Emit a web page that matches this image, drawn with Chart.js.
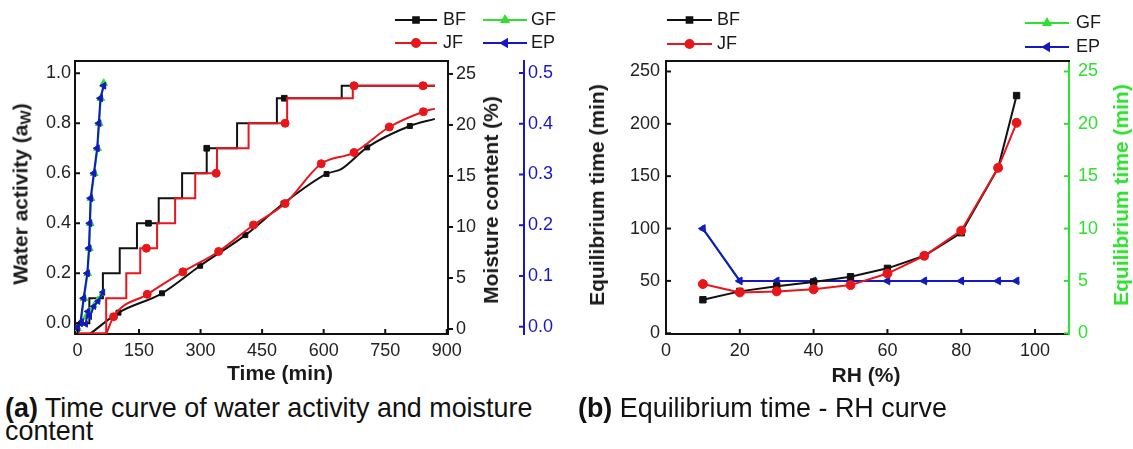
<!DOCTYPE html>
<html>
<head>
<meta charset="utf-8">
<script src="https://cdn.jsdelivr.net/npm/chart.js@4.4.1/dist/chart.umd.min.js"></script>
<style>
  body { margin: 0; background: #fff; width: 1133px; height: 449px; position: relative; overflow: hidden;
         font-family: "Liberation Sans", Arial, sans-serif; }
  canvas { position: absolute; top: 0; }
  #chartA { left: 0; }
  #chartB { left: 570px; }
  .ttl { position: absolute; white-space: nowrap; font-weight: bold; font-size: 21px; color: #1a1a1a;
         transform: translate(-50%, -50%); }
  .rot { transform: translate(-50%, -50%) rotate(-90deg); }
  .ttl sub { font-size: 0.72em; vertical-align: -0.2em; }
  .cap { position: absolute; font-size: 28px; line-height: 23px; color: #111; white-space: nowrap;
         transform: scaleX(0.96); transform-origin: left top; }
</style>
</head>
<body>
<canvas id="chartA" width="560" height="390"></canvas>
<canvas id="chartB" width="563" height="390"></canvas>

<div class="ttl rot" style="left:21px;top:194px">Water activity (a<sub>W</sub>)</div>
<div class="ttl" style="left:280px;top:373px">Time (min)</div>
<div class="ttl rot" style="left:491px;top:200px">Moisture content (%)</div>
<div class="ttl rot" style="left:597px;top:195px">Equilibrium time (min)</div>
<div class="ttl" style="left:866px;top:375px">RH (%)</div>
<div class="ttl rot" style="left:1121px;top:195px;color:#2fe02f">Equilibrium time (min)</div>

<div class="cap" style="left:5px;top:396px"><b>(a)</b> Time curve of water activity and moisture<br>content</div>
<div class="cap" style="left:578px;top:396px"><b>(b)</b> Equilibrium time - RH curve</div>

<script>
// ---- panel (a): water activity (left axis) and moisture content (right axes) vs time
const timeTicks = [0, 150, 300, 450, 600, 750, 900];
const awTicks = [0, 0.2, 0.4, 0.6, 0.8, 1.0];
const mcTicks = [0, 5, 10, 15, 20, 25];
const epMcTicks = [0, 0.1, 0.2, 0.3, 0.4, 0.5];

const bfAwTime = [0, 29, 62, 103, 145, 173, 198, 255, 315, 389, 486, 504, 644, 674, 843, 871];
const bfAwValue = [0.0, 0.1, 0.2, 0.3, 0.4, 0.4, 0.5, 0.6, 0.7, 0.8, 0.9, 0.9, 0.95, 0.95, 0.95, 0.95];
const bfAwMarked = [173, 315, 504, 674, 843];

const jfAwTime = [0, 70, 119, 153, 168, 194, 238, 287, 338, 340, 417, 506, 511, 671, 674, 842, 871];
const jfAwValue = [-0.04, 0.1, 0.2, 0.3, 0.3, 0.4, 0.5, 0.6, 0.6, 0.7, 0.8, 0.8, 0.9, 0.95, 0.95, 0.95, 0.95];
const jfAwMarked = [168, 338, 506, 674, 842];

const gfAwTime = [0, 8, 16, 25, 29, 31, 33, 41, 49, 53, 57, 64];
const gfAwValue = [-0.02, 0.0, 0.1, 0.2, 0.3, 0.4, 0.5, 0.6, 0.7, 0.8, 0.9, 0.96];
const epAwTime = [0, 7, 15, 24, 28, 30, 32, 40, 48, 52, 56, 64];
const epAwValue = [-0.02, 0.0, 0.1, 0.2, 0.3, 0.4, 0.5, 0.6, 0.7, 0.8, 0.9, 0.95];

const bfMcTime = [30, 100, 206, 299, 409, 502, 607, 644, 706, 810, 871];
const bfMcValue = [-0.5, 1.6, 3.5, 6.2, 9.2, 12.3, 15.2, 15.7, 17.8, 19.9, 20.6];
const bfMcMarked = [100, 206, 299, 409, 502, 607, 706, 810];

const jfMcTime = [70, 88, 170, 257, 344, 429, 506, 594, 674, 760, 843, 871];
const jfMcValue = [-0.5, 1.2, 3.4, 5.6, 7.6, 10.2, 12.3, 16.2, 17.3, 19.8, 21.3, 21.6];
const jfMcMarked = [88, 170, 257, 344, 429, 506, 594, 674, 760, 843];

const gfMcTime = [0, 10, 20, 30, 40, 50, 60];
const gfMcValue = [0.2, 0.7, 1.2, 1.8, 2.3, 2.9, 3.5];
const epMcTime = [0, 10, 20, 25, 30, 40, 50, 62];
const epMcValue = [0.0, 0.01, 0.005, 0.03, 0.02, 0.04, 0.05, 0.068];

// ---- panel (b): equilibrium time vs RH
const rhTicks = [0, 20, 40, 60, 80, 100];
const eqTicks = [0, 50, 100, 150, 200, 250];
const eqRightTicks = [0, 5, 10, 15, 20, 25];
const rh = [10, 20, 30, 40, 50, 60, 70, 80, 90, 95];
const bfEq = [32, 40, 45, 49, 54, 62, 74, 96, 158, 227];
const jfEq = [47, 39, 40, 42, 46, 57, 74, 98, 158, 201];
const gfEq = [10, 5, 5, 5, 5, 5, 5, 5, 5, 5];
const epEq = [10, 5, 5, 5, 5, 5, 5, 5, 5, 5];

const BLACK = '#111111', RED = '#e8161b', GREEN = '#2fe02f', BLUE = '#1717c4';

Chart.defaults.font.family = '"Liberation Sans", Arial, sans-serif';
Chart.defaults.font.size = 18;
Chart.defaults.color = '#222';
Chart.defaults.animation = false;

const pts = (xs, ys) => xs.map((x, i) => ({ x: x, y: ys[i] }));
const marks = (xs, marked, r) => xs.map(x => (marked === null || marked.includes(x)) ? r : 0);

// tick marks, top frame line, legend
const decor = {
  id: 'decor',
  afterDraw(chart, args, opts) {
    const ctx = chart.ctx, a = chart.chartArea;
    ctx.save();
    ctx.strokeStyle = BLACK;
    ctx.lineWidth = 2;
    ctx.beginPath();
    ctx.moveTo(a.left - 1, a.top);
    ctx.lineTo(a.right + 1, a.top);
    ctx.stroke();

    for (const [id, dir] of Object.entries(opts.ticks)) {
      const s = chart.scales[id];
      ctx.strokeStyle = s.options.border.color;
      s.ticks.forEach(t => {
        const p = s.getPixelForValue(t.value);
        ctx.beginPath();
        if (s.isHorizontal()) {
          ctx.moveTo(p, s.top);
          ctx.lineTo(p, s.top + (dir === 'in' ? -5 : 5));
        } else {
          const x = s.position === 'left' ? s.right : s.left;
          const sign = ((s.position === 'left') === (dir === 'in')) ? 1 : -1;
          ctx.moveTo(x, p);
          ctx.lineTo(x + sign * 5, p);
        }
        ctx.stroke();
      });
    }

    ctx.font = '18px "Liberation Sans", Arial, sans-serif';
    ctx.textBaseline = 'middle';
    opts.legend.forEach(e => {
      const ds = chart.data.datasets[e.i];
      ctx.strokeStyle = ds.borderColor;
      ctx.lineWidth = 2;
      ctx.beginPath();
      ctx.moveTo(e.x1, e.y);
      ctx.lineTo(e.x2, e.y);
      ctx.stroke();
      ctx.fillStyle = ds.pointBackgroundColor;
      Chart.helpers.drawPoint(ctx, { pointStyle: ds.pointStyle, rotation: ds.pointRotation || 0, radius: 4, borderWidth: 1 },
        (e.x1 + e.x2) / 2, e.y);
      ctx.fillStyle = '#1a1a1a';
      ctx.fillText(ds.label, e.tx, e.y);
    });
    ctx.restore();
  }
};

function fixTicks(list) {
  return scale => { scale.ticks = list.map(v => ({ value: v })); };
}

function lineSet(label, data, color, style, yAxisID, order, radius, extra) {
  return Object.assign({
    label: label, data: data, yAxisID: yAxisID, order: order,
    borderColor: color, backgroundColor: color, pointBackgroundColor: color, pointBorderColor: color,
    borderWidth: 2, pointStyle: style, pointRadius: radius, pointBorderWidth: 1
  }, extra || {});
}

const axisBase = (color) => ({
  type: 'linear',
  grid: { drawOnChartArea: false, drawTicks: false },
  border: { color: color, width: 2 },
  ticks: { color: color === BLACK ? '#222' : color, autoSkip: false, maxRotation: 0 }
});

// ---------- chart (a)
const xA = axisBase(BLACK);
Object.assign(xA, { position: 'bottom', min: -6, max: 903, afterBuildTicks: fixTicks(timeTicks),
  afterFit: s => { s.height = 56; } });
xA.ticks.padding = 6;

const yA = axisBase(BLACK);
Object.assign(yA, { position: 'left', min: -0.043, max: 1.049, afterBuildTicks: fixTicks(awTicks),
  afterFit: s => { s.width = 75; } });
yA.ticks.callback = v => v.toFixed(1);
yA.ticks.padding = 4;

const y1A = axisBase(BLACK);
Object.assign(y1A, { position: 'right', weight: 0, min: -0.49, max: 26.27, afterBuildTicks: fixTicks(mcTicks),
  afterFit: s => { s.width = 76; } });
y1A.ticks.padding = 8;

const y2A = axisBase(BLUE);
Object.assign(y2A, { position: 'right', weight: 1, min: -0.0144, max: 0.5237, afterBuildTicks: fixTicks(epMcTicks),
  afterFit: s => { s.width = 36; } });
y2A.ticks.callback = v => v.toFixed(1);
y2A.ticks.padding = 4;

new Chart(document.getElementById('chartA'), {
  type: 'line',
  data: {
    datasets: [
      lineSet('BF', pts(bfAwTime, bfAwValue), BLACK, 'rect', 'y', 6, marks(bfAwTime, bfAwMarked, 4), { stepped: 'before' }),
      lineSet('JF', pts(jfAwTime, jfAwValue), RED, 'circle', 'y', 5, marks(jfAwTime, jfAwMarked, 4), { stepped: 'before' }),
      lineSet('GF', pts(gfAwTime, gfAwValue), GREEN, 'triangle', 'y', 4, 4.5),
      lineSet('EP', pts(epAwTime, epAwValue), BLUE, 'triangle', 'y', 1, 4, { pointRotation: 270 }),
      lineSet('BF', pts(bfMcTime, bfMcValue), BLACK, 'rect', 'y1', 6, marks(bfMcTime, bfMcMarked, 3.5), { cubicInterpolationMode: 'monotone' }),
      lineSet('JF', pts(jfMcTime, jfMcValue), RED, 'circle', 'y1', 5, marks(jfMcTime, jfMcMarked, 4), { cubicInterpolationMode: 'monotone' }),
      lineSet('GF', pts(gfMcTime, gfMcValue), GREEN, 'triangle', 'y1', 3, 3.5),
      lineSet('EP', pts(epMcTime, epMcValue), BLUE, 'triangle', 'y2', 2, 3.5, { pointRotation: 270 })
    ]
  },
  options: {
    responsive: false,
    layout: { padding: { top: 61, left: 0, right: 0, bottom: 0 } },
    scales: { x: xA, y: yA, y1: y1A, y2: y2A },
    plugins: {
      legend: { display: false },
      tooltip: { enabled: false },
      decor: {
        ticks: { x: 'in', y: 'in', y1: 'out', y2: 'in' },
        legend: [
          { i: 0, x1: 395, x2: 437, y: 20, tx: 443 },
          { i: 1, x1: 395, x2: 437, y: 43, tx: 443 },
          { i: 2, x1: 483, x2: 527, y: 20, tx: 531 },
          { i: 3, x1: 483, x2: 527, y: 43, tx: 531 }
        ]
      }
    }
  },
  plugins: [decor]
});

// ---------- chart (b)
const xB = axisBase(BLACK);
Object.assign(xB, { position: 'bottom', min: 0, max: 109.2, afterBuildTicks: fixTicks(rhTicks),
  afterFit: s => { s.height = 56; } });
xB.ticks.padding = 6;

const yB = axisBase(BLACK);
Object.assign(yB, { position: 'left', min: -0.7, max: 260, afterBuildTicks: fixTicks(eqTicks),
  afterFit: s => { s.width = 96; } });
yB.ticks.padding = 6;

const y1B = axisBase(GREEN);
Object.assign(y1B, { position: 'right', min: -0.07, max: 26, afterBuildTicks: fixTicks(eqRightTicks),
  afterFit: s => { s.width = 64; } });
y1B.ticks.padding = 9;

new Chart(document.getElementById('chartB'), {
  type: 'line',
  data: {
    labels: rh,
    datasets: [
      lineSet('BF', pts(rh, bfEq), BLACK, 'rect', 'y', 2, 4.5),
      lineSet('JF', pts(rh, jfEq), RED, 'circle', 'y', 1, 4.5),
      lineSet('GF', pts(rh, gfEq), GREEN, 'triangle', 'y1', 4, 3.5),
      lineSet('EP', pts(rh, epEq), BLUE, 'triangle', 'y1', 3, 4.5, { pointRotation: 270 })
    ]
  },
  options: {
    responsive: false,
    layout: { padding: { top: 61, left: 0, right: 0, bottom: 0 } },
    scales: { x: xB, y: yB, y1: y1B },
    plugins: {
      legend: { display: false },
      tooltip: { enabled: false },
      decor: {
        ticks: { x: 'in', y: 'in', y1: 'in' },
        legend: [
          { i: 0, x1: 97, x2: 142, y: 20, tx: 147 },
          { i: 1, x1: 97, x2: 142, y: 44, tx: 147 },
          { i: 2, x1: 455, x2: 499, y: 23, tx: 506 },
          { i: 3, x1: 455, x2: 499, y: 47, tx: 506 }
        ]
      }
    }
  },
  plugins: [decor]
});
</script>
</body>
</html>
